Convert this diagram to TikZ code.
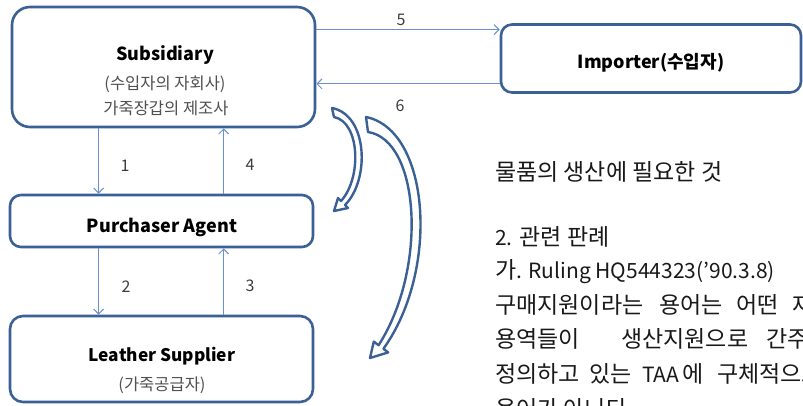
\documentclass[tikz,border=0pt]{standalone}
\usepackage{fontspec}
\setmainfont{Noto Sans CJK KR}
\usetikzlibrary{arrows.meta}
\definecolor{boxblue}{RGB}{59,96,150}
\definecolor{linkblue}{RGB}{105,145,205}
\definecolor{labgray}{RGB}{60,60,60}
\definecolor{subgray}{RGB}{80,80,80}
\definecolor{txt}{RGB}{25,25,25}
\newcommand{\hg}{\fontsize{23}{23}\selectfont}
\newcommand{\latsz}{\fontsize{21}{21}\selectfont}
\tikzset{
  box/.style={draw=boxblue, line width=2.6pt, fill=white, inner sep=0pt},
  flow/.style={draw=linkblue, line width=1pt, -{Straight Barb[length=5pt,width=10pt,line width=1pt]}},
  num/.style={text=labgray, font=\fontsize{16}{16}\selectfont, inner sep=0pt},
  title/.style={font=\fontsize{18}{18}\selectfont\bfseries, text=black, inner sep=0pt},
  small/.style={font=\fontsize{16.5}{16.5}\selectfont, text=subgray, inner sep=0pt},
  body/.style={font=\hg, text=txt, inner sep=0pt, anchor=base west},
  blockarrow/.style={draw=boxblue, line width=2.4pt, fill=white, line join=round}
}
\begin{document}
\begin{tikzpicture}[x=1pt, y=-1pt]
\useasboundingbox (0,0) rectangle (803,405);
\clip (0,0) rectangle (803,405);
% boxes
\node[box, rounded corners=18pt, minimum width=303pt, minimum height=120pt] (sub) at (163.5,67) {};
\node[box, rounded corners=11pt, minimum width=300pt, minimum height=68pt] (imp) at (651,58.5) {};
\node[box, rounded corners=11pt, minimum width=303pt, minimum height=52pt] (pa) at (161.5,221) {};
\node[box, rounded corners=13pt, minimum width=303pt, minimum height=86pt] (ls) at (161.5,359) {};
% box texts
\node[title] (subT) at (165,55) {Subsidiary};
\node[small] (subA) at (165,84) {(수입자의 자회사)};
\node[small] (subB) at (166,108) {가죽장갑의 제조사};
\node[title] (impT) at (651,63) {Importer(수입자)};
\node[title] (paT) at (162,227) {Purchaser Agent};
\node[title, font=\fontsize{17.3}{17.3}\selectfont\bfseries] (lsT) at (162,356) {Leather Supplier};
\node[small] (lsA) at (162,385) {(가죽공급자)};
% connectors
\coordinate (c1) at ([xshift=88pt]sub.south west);
\draw[flow] (c1) -- (c1 |- pa.north);
\coordinate (c4) at ([xshift=215pt]pa.north west);
\draw[flow] (c4) -- (c4 |- sub.south);
\coordinate (c2) at ([xshift=90pt]pa.south west);
\draw[flow] (c2) -- (c2 |- ls.north);
\coordinate (c3) at ([xshift=215pt]ls.north west);
\draw[flow] (c3) -- (c3 |- pa.south);
\coordinate (c5) at ([yshift=-24pt]sub.north east);
\draw[flow] (c5) -- (c5 -| imp.west);
\coordinate (c6) at ([yshift=10pt]imp.south west);
\draw[flow] (c6) -- (c6 -| sub.east);
% labels
\node[num] (n1) at (125,166) {1};
\node[num] (n4) at (250,165) {4};
\node[num] (n2) at (126,287) {2};
\node[num] (n3) at (250,286) {3};
\node[num] (n5) at (401,20) {5};
\node[num] (n6) at (400,106) {6};
% curved block arrows
\draw[blockarrow] (332,108) .. controls (368,115) and (370,180) .. (345,205)
  -- (348,208) -- (334,211) -- (338,198) -- (341,201)
  .. controls (362,178) and (360,122) .. (334,117) -- cycle;
\draw[blockarrow] (366,117) .. controls (430,130) and (440,270) .. (383.4,348.8)
  -- (388.2,352.4) -- (370,358) -- (373.8,341.6) -- (378.6,345.2)
  .. controls (428,268) and (420,140) .. (368,132) -- cycle;
% right text
\node[body] (t1) at (495,180) {물품의 생산에 필요한 것};
\node[body] (t2) at (495,245) {{\latsz 2.} 관련 판례};
\node[body] (t3) at (495,278) {가{\latsz. Ruling HQ544323(’90.3.8)}};
\node[body] (t4a) at (495,313) {구매지원이라는};
\node[body] (t4b) at (659,313) {용어는};
\node[body] (t4c) at (736,313) {어떤};
\node[body] (t4d) at (792,313) {재};
\node[body] (t5a) at (495,347) {용역들이};
\node[body] (t5b) at (621,347) {생산지원으로};
\node[body] (t5c) at (766,347) {간주};
\node[body] (t6a) at (495,382) {정의하고};
\node[body] (t6b) at (589,382) {있는};
\node[body] (t6c) at (642,382) {\latsz TAA};
\node[body] (t6d) at (682,382) {에};
\node[body] (t6e) at (717,382) {구체적으로};
\node[body] (t7) at (495,417) {용어가 아니다};
\end{tikzpicture}
\end{document}
